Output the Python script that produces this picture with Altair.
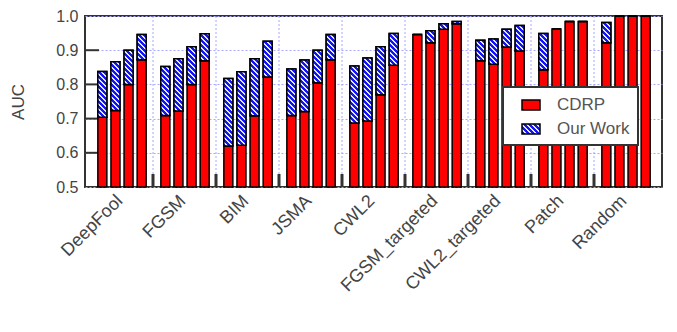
import json
import altair as alt

# ---------------- data ----------------
CATEGORIES = ["DeepFool", "FGSM", "BIM", "JSMA", "CWL2",
              "FGSM_targeted", "CWL2_targeted", "Patch", "Random"]
SERIES = ["CDRP", "Our Work"]

CDRP = [
    [0.704, 0.724, 0.800, 0.872],
    [0.709, 0.722, 0.800, 0.869],
    [0.620, 0.622, 0.708, 0.822],
    [0.709, 0.721, 0.805, 0.872],
    [0.687, 0.693, 0.770, 0.856],
    [0.946, 0.922, 0.961, 0.977],
    [0.869, 0.859, 0.909, 0.898],
    [0.843, 0.962, 0.984, 0.984],
    [0.922, 0.999, 0.999, 0.999],
]
OUR_WORK = [
    [0.838, 0.866, 0.900, 0.946],
    [0.852, 0.875, 0.910, 0.948],
    [0.817, 0.837, 0.875, 0.926],
    [0.845, 0.871, 0.900, 0.946],
    [0.854, 0.877, 0.910, 0.949],
    [0.946, 0.957, 0.977, 0.984],
    [0.929, 0.933, 0.961, 0.972],
    [0.949, 0.962, 0.984, 0.984],
    [0.981, 0.999, 0.999, 0.999],
]
Y_TICKS = [0.5, 0.6, 0.7, 0.8, 0.9, 1.0]

# ---------------- styling ----------------
PLOT_W, PLOT_H = 577, 171
Y_MIN, Y_MAX = 0.5, 1.0
BAR_PX = 9
RED = "#ff0000"
BLUE = "#1414f0"
STRIPE = "#dfe6ff"
GRID = "#a8a8ff"
DARK = "#333333"
TEXT = "#444444"
FONT = "Liberation Sans"
N_BARS = 4
SLOTS = 5  # 4 bars + one gap per group


def hatch(h, w, period=5.0, white=0.4):
    """Linear gradient with hard stops that draws '\\' stripes at 45 degrees."""
    r = h / w
    s = (1 + r) / (1 + r * r)
    n = max((w + h) / period, 1.0)
    p = 1.0 / n
    stops, t = [], 0.0
    while t < 1.0 - 1e-9:
        b = min(t + (1 - white) * p, 1.0)
        c = min(t + p, 1.0)
        stops += [{"offset": round(t, 5), "color": BLUE},
                  {"offset": round(b, 5), "color": BLUE},
                  {"offset": round(b, 5), "color": STRIPE},
                  {"offset": round(c, 5), "color": STRIPE}]
        t += p
    return {"gradient": "linear", "x1": 0, "y1": 1,
            "x2": round(s, 5), "y2": round(1 - r * s, 5), "stops": stops}


bars, hatched = [], []
for g, cat in enumerate(CATEGORIES):
    for k in range(N_BARS):
        xpos = SLOTS * g + 0.98 + 1.04 * k
        c, o = CDRP[g][k], OUR_WORK[g][k]
        bars.append({"cat": cat, "x": xpos, "series": "CDRP", "lo": Y_MIN, "hi": c})
        bars.append({"cat": cat, "x": xpos, "series": "Our Work", "lo": c, "hi": o})
        h_px = (o - c) / (Y_MAX - Y_MIN) * PLOT_H
        hatched.append({"cat": cat, "x": xpos, "lo": c, "hi": o,
                        "grad": hatch(h_px, BAR_PX)})

boundaries = [{"b": SLOTS * g} for g in range(1, len(CATEGORIES))]
inner_ticks = [{"t": v} for v in Y_TICKS[1:-1]]

legend_grad = hatch(0.55 * 18, 18)
legend_range = [RED, alt.ExprRef(expr=json.dumps(legend_grad))]

label_list = "[" + ",".join("'%s'" % c for c in CATEGORIES) + "]"
xscale = alt.Scale(domain=[0, SLOTS * len(CATEGORIES)], nice=False, zero=False)
yscale = alt.Scale(domain=[Y_MIN, Y_MAX], nice=False, zero=False)

xaxis = alt.Axis(
    title=None,
    values=[SLOTS * g + SLOTS / 2 for g in range(len(CATEGORIES))],
    labelExpr=label_list + "[floor(datum.value / %d)]" % SLOTS,
    ticks=False, domain=False, grid=False,
    labelAngle=-45, labelAlign="right", labelBaseline="middle",
    labelPadding=11, labelOffset=-2,
    labelFontSize=18, labelColor=TEXT, labelFont=FONT,
    labelOverlap=False, labelBound=False, labelFlush=False,
)
yaxis = alt.Axis(
    title="AUC", values=Y_TICKS, format=".1f",
    ticks=False, domain=False,
    grid=True, gridColor=GRID, gridDash=[2, 2], gridWidth=1,
    labelFontSize=16, labelColor=TEXT, labelFont=FONT, labelPadding=7,
    titleFontSize=17, titleFontWeight="normal", titleColor=TEXT,
    titleFont=FONT, titlePadding=28,
)

X = lambda f: alt.X(f, scale=xscale, axis=xaxis)
Y = lambda f: alt.Y(f, scale=yscale, axis=yaxis)

vgrid = alt.Chart(alt.Data(values=boundaries)).mark_rule(
    color=GRID, strokeDash=[2, 2], strokeWidth=1
).encode(x=X("b:Q"))

bottom_ticks = alt.Chart(alt.Data(values=boundaries)).mark_rule(
    color=DARK, strokeWidth=3
).encode(x=X("b:Q"), y=alt.value(PLOT_H), y2=alt.value(PLOT_H - 13))

left_ticks = alt.Chart(alt.Data(values=inner_ticks)).mark_rule(
    color=DARK, strokeWidth=2
).encode(y=Y("t:Q"), x=alt.value(0), x2=alt.value(14))

base_bars = alt.Chart(alt.Data(values=bars)).mark_bar(
    size=BAR_PX, stroke="black", strokeWidth=1.5
).encode(
    x=X("x:Q"), y=Y("hi:Q"), y2="lo:Q",
    color=alt.Color(
        "series:N",
        scale=alt.Scale(domain=SERIES, range=legend_range),
        legend=alt.Legend(
            title=None, orient="none", legendX=418, legendY=71,
            fillColor="white", strokeColor=DARK, padding=8,
            symbolType="M-1,-0.55H1V0.55H-1Z", symbolSize=324,
            symbolStrokeColor="black", symbolStrokeWidth=1.5,
            symbolOpacity=1, symbolOffset=10, labelOffset=16,
            rowPadding=6, labelFontSize=17, labelColor="#555555",
            labelFont=FONT,
        ),
    ),
)

hatch_bars = alt.Chart(alt.Data(values=hatched)).mark_bar(
    size=BAR_PX, stroke="black", strokeWidth=1.5
).encode(
    x=X("x:Q"), y=Y("hi:Q"), y2="lo:Q",
    fill=alt.Fill("grad:N", scale=None, legend=None),
)

chart = alt.layer(vgrid, left_ticks, bottom_ticks, base_bars, hatch_bars).properties(
    width=PLOT_W, height=PLOT_H,
    padding={"left": 77, "top": 8, "right": 5, "bottom": 140},
    autosize=alt.AutoSizeParams(type="none"),
).configure(font=FONT).configure_view(
    stroke=DARK, strokeWidth=2
).configure_legend(strokeWidth=2, cornerRadius=0)

chart.save("out.html", embed_options={"renderer": "svg", "actions": False})
